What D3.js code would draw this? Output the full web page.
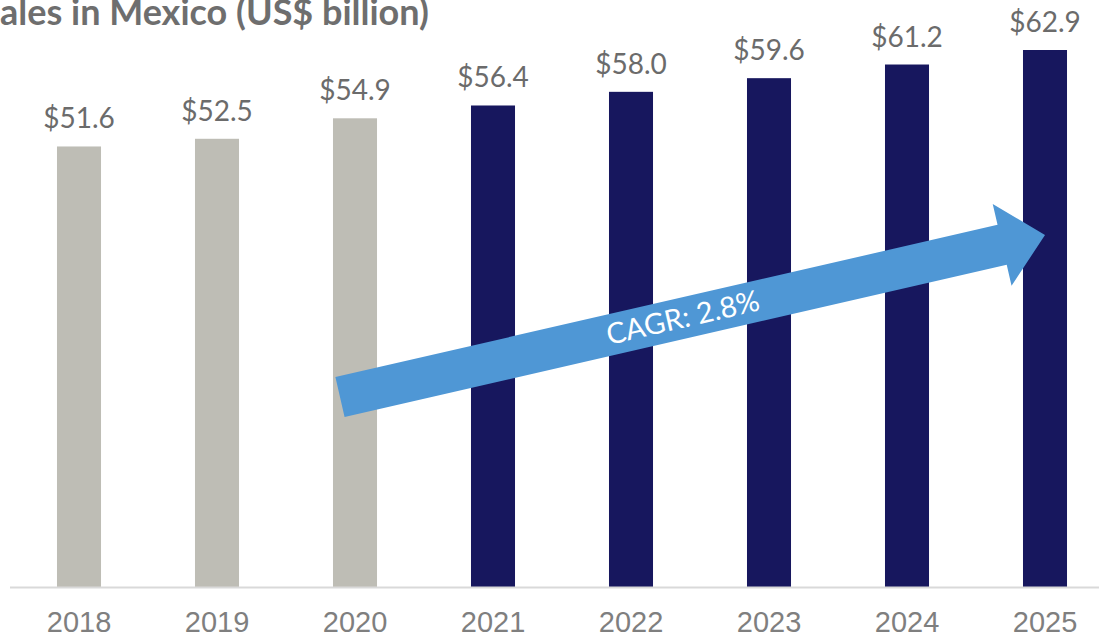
<!DOCTYPE html>
<html><head><meta charset="utf-8">
<script src="https://cdn.jsdelivr.net/npm/d3@7/dist/d3.min.js"></script>
<style>html,body{margin:0;padding:0;background:#fff;overflow:hidden}</style>
</head><body>
<svg id="chart" width="1099" height="635"></svg>
<script>
const title = "ales in Mexico (US$ billion)";
const years = ["2018","2019","2020","2021","2022","2023","2024","2025"];
const values = [51.6, 52.5, 54.9, 56.4, 58.0, 59.6, 61.2, 62.9];
const isActual = [true, true, true, false, false, false, false, false];
const cagrLabel = "CAGR: 2.8%";

const W = 1099, H = 635;
const svg = d3.select("#chart");
const baseY = 587;

const x = d3.scaleBand().domain(years).range([10, 1114]).paddingInner(0.681).paddingOuter(0.3405);
const y = d3.scaleLinear().domain([0, 62.9]).range([baseY, 50]);

// title
svg.append("text").attr("x", 0).attr("y", 25)
  .attr("font-family", "Lato, sans-serif").attr("font-weight", 700).attr("font-size", 36)
  .attr("fill", "#6e6e6e").text(title);

// bars
svg.selectAll("rect.bar").data(years).join("rect").attr("class","bar")
  .attr("x", d => x(d)).attr("width", x.bandwidth())
  .attr("y", (d,i) => y(values[i])).attr("height", (d,i) => baseY - y(values[i]))
  .attr("fill", (d,i) => isActual[i] ? "#bebdb5" : "#17175e");

// value labels
svg.selectAll("text.val").data(years).join("text").attr("class","val")
  .attr("x", d => x(d) + x.bandwidth()/2).attr("y", (d,i) => y(values[i]) - 18)
  .attr("text-anchor","middle").attr("font-family","Lato, sans-serif").attr("font-size", 28)
  .attr("fill","#6b6b6b").text((d,i) => "$" + values[i].toFixed(1));

// axis
const axis = svg.append("g").attr("transform", `translate(0,${baseY})`)
  .call(d3.axisBottom(x).tickSize(0).tickPadding(0));
axis.select(".domain").attr("d", "M10,0.5H1099").attr("stroke","#d9d9d9").attr("stroke-width",2);
axis.selectAll(".tick text").attr("y", 45).attr("dy", null)
  .attr("font-family","'Liberation Sans', Arial, sans-serif").attr("font-size", 29).attr("fill","#7f7f7f");

// CAGR arrow
const tail = [x("2020") + 7, 397];
const tip = [x("2025") + x.bandwidth() - 22, 235];
const dx = tip[0]-tail[0], dy = tip[1]-tail[1];
const len = Math.hypot(dx, dy);
const ang = Math.atan2(dy, dx) * 180 / Math.PI;
const shaftW = 41, headW = 84, headL = 44;
const arrowPath = `M0,${-shaftW/2} L${len-headL},${-shaftW/2} L${len-headL},${-headW/2} L${len},0 L${len-headL},${headW/2} L${len-headL},${shaftW/2} L0,${shaftW/2} Z`;
const ag = svg.append("g").attr("transform", `translate(${tail[0]},${tail[1]}) rotate(${ang})`);
ag.append("path").attr("d", arrowPath).attr("fill", "#4f97d5");
ag.append("text").attr("x", 343/Math.cos(ang*Math.PI/180)).attr("y", -1).attr("dy","0.36em")
  .attr("text-anchor","middle").attr("font-family","Lato, sans-serif").attr("font-size", 29)
  .attr("fill","#fff").text(cagrLabel);
</script>
</body></html>
